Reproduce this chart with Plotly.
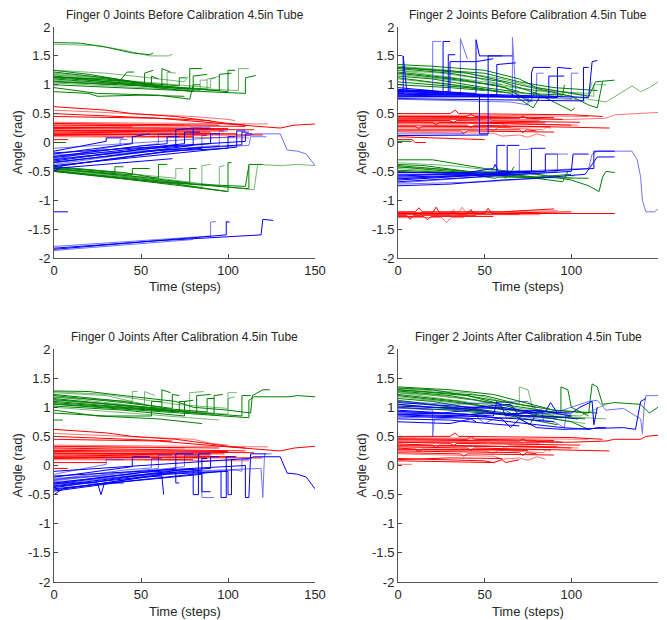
import plotly.graph_objects as go

# ---------------- data (keypoints: t0, a0, t1, a1, ...) ----------------
TITLES = ["Finger 0 Joints Before Calibration 4.5in Tube",
          "Finger 2 Joints Before Calibration 4.5in Tube",
          "Finger 0 Joints After Calibration 4.5in Tube",
          "Finger 2 Joints After Calibration 4.5in Tube"]
X_TICKS = [0, 50, 100, 150]
Y_TICKS = [2, 1.5, 1, 0.5, 0, -0.5, -1, -1.5, -2]
Y_TICK_LABELS = ["2", "1.5", "1", "0.5", "0", "-0.5", "-1", "-1.5", "-2"]

F0B_GREEN = [
    [0,1.73, 15,1.72, 30,1.65, 45,1.55, 55,1.52, 57,1.55],
    [0,1.70, 25,1.68, 40,1.6, 55,1.5, 66,1.50, 68,1.53],
    [0,1.25, 20,1.18, 52,1.02, 52,1.2, 57,1.25],
    [0,1.22, 30,1.12, 62,0.98, 62,1.28, 67,1.22],
    [0,1.2, 35,1.1, 65,0.95, 65,1.22, 70,1.2],
    [0,1.15, 40,1.02, 78,0.92, 78,1.28, 85,1.28],
    [0,1.1, 45,1.0, 80,0.88, 80,1.15, 88,1.18],
    [0,1.18, 50,1.05, 90,0.95, 90,1.1, 95,1.15],
    [0,1.05, 50,0.98, 95,0.9, 95,1.18, 102,1.2],
    [0,1.12, 55,1.0, 100,0.88, 100,1.25, 104,1.25],
    [0,1.08, 60,0.97, 106,0.9, 106,1.28, 112,1.28],
    [0,1.0, 60,0.92, 110,0.85, 110,1.12, 116,1.16],
    [0,0.95, 25,0.85, 60,0.82, 78,0.75, 80,1.0, 84,1.0],
    [0,1.25, 30,1.2, 55,1.12, 75,1.05, 77,1.15],
    [0,1.13, 30,1.1, 56,1.0, 56,1.15, 60,1.1],
    [0,0.88, 20,0.85, 25,0.8, 50,0.82, 75,0.8],
    [0,1.17, 70,0.95, 88,0.93, 88,1.1, 93,1.12],
    [0,1.06, 36,1.0, 42,1.22, 46,1.22],
    [0,1.14, 40,1.06, 72,0.98, 72,1.12, 76,1.12],
    [0,1.03, 45,0.96, 84,0.9, 84,1.08, 88,1.08],
    [0,-0.42, 40,-0.52, 60,-0.62, 60,-0.38, 65,-0.38],
    [0,-0.45, 50,-0.6, 78,-0.7, 78,-0.45, 82,-0.45],
    [0,-0.47, 50,-0.62, 85,-0.78, 85,-0.4, 90,-0.38],
    [0,-0.48, 60,-0.7, 100,-0.85, 100,-0.35, 102,-0.35],
    [0,-0.5, 60,-0.68, 112,-0.8, 112,-0.38, 120,-0.38],
    [0,-0.45, 60,-0.65, 115,-0.82, 117,-0.38, 130,-0.4, 140,-0.38, 150,-0.4],
    [0,-0.46, 45,-0.56, 45,-0.45, 55,-0.45],
    [0,-0.5, 30,-0.6, 70,-0.72, 100,-0.85],
    [0,-0.44, 60,-0.62, 95,-0.75, 95,-0.42, 98,-0.4],
    [0,-0.43, 35,-0.52, 35,-0.42, 40,-0.42],
    [0,-0.49, 80,-0.72, 110,-0.76, 112,-0.4],
    [0,-0.41, 50,-0.56, 70,-0.62, 70,-0.45, 74,-0.45],
    [0,0.0, 7,0.0],
]
F0B_RED = [
    [0,0.62, 30,0.56, 45,0.5, 70,0.45, 100,0.33, 110,0.3],
    [0,0.56, 40,0.5, 80,0.45, 100,0.4, 104,0.38],
    [0,0.5, 50,0.44, 90,0.38],
    [0,0.45, 60,0.42, 100,0.32, 130,0.25, 138,0.3, 150,0.32],
    [0,0.35, 123,0.32], [0,0.33, 95,0.3], [0,0.3, 110,0.28],
    [0,0.28, 85,0.25], [0,0.26, 100,0.24], [0,0.24, 115,0.22],
    [0,0.22, 70,0.2], [0,0.2, 90,0.18], [0,0.18, 105,0.15],
    [0,0.16, 60,0.15], [0,0.14, 120,0.13], [0,0.12, 80,0.1],
    [0,0.1, 112,0.08], [0,0.25, 45,0.27], [0,0.05, 8,0.05],
    [0,0.32, 75,0.3], [0,0.21, 98,0.2], [0,0.15, 88,0.13],
]
F0B_BLUE = [
    [0,-0.2, 45,-0.02, 45,0.1, 55,0.15],
    [0,-0.25, 60,-0.02, 60,0.15, 68,0.15],
    [0,-0.3, 70,-0.05, 70,0.22, 80,0.25],
    [0,-0.35, 80,-0.05, 80,0.25, 90,0.25],
    [0,-0.28, 95,-0.05, 95,0.2, 100,0.2],
    [0,-0.4, 105,-0.08, 105,0.2, 110,0.2],
    [0,-0.18, 110,0.02, 110,0.15, 114,0.15],
    [0,-0.22, 112,-0.05, 113,0.1, 122,0.1],
    [0,-0.45, 40,-0.35, 68,-0.28],
    [0,-0.5, 5,-0.4, 30,-0.3, 60,-0.18, 85,-0.1],
    [0,-0.1, 60,0.02, 112,0.12, 115,0.15, 130,0.15, 134,-0.13, 140,-0.15, 145,-0.2, 150,-0.4],
    [0,-0.15, 30,0.02, 30,0.08, 40,0.08],
    [0,-0.32, 50,-0.12, 90,-0.02, 90,0.15, 95,0.15],
    [0,-0.38, 55,-0.15, 85,-0.08, 85,0.12, 88,0.12],
    [0,-0.26, 75,-0.02, 75,0.18, 84,0.18],
    [0,-0.42, 65,-0.15, 100,-0.1, 100,0.1, 104,0.1],
    [0,-0.3, 20,-0.15, 38,-0.05, 38,0.05, 42,0.05],
    [0,-0.24, 50,-0.06, 65,-0.02, 65,0.1, 72,0.1],
    [0,-0.34, 60,-0.14, 108,-0.04, 108,0.18, 112,0.18],
    [0,-1.8, 90,-1.62, 90,-1.38, 93,-1.37],
    [0,-1.85, 99,-1.6, 99,-1.37, 101,-1.38],
    [0,-1.83, 60,-1.7, 119,-1.6, 120,-1.33, 126,-1.35],
    [0,-1.87, 30,-1.8, 80,-1.68],
    [0,-1.2, 8,-1.2],
]

F2B_GREEN = [
    [0,1.35, 20,1.32, 50,1.25, 70,1.1, 80,0.95, 100,0.85, 110,0.8, 114,1.05, 125,1.08],
    [0,1.32, 30,1.25, 60,1.1, 80,0.95, 113,0.8, 113,1.0, 120,1.0],
    [0,1.3, 40,1.2, 70,1.0, 100,0.8, 110,0.65, 115,0.6, 118,1.05],
    [0,1.28, 30,1.2, 60,1.05, 80,0.85, 100,0.55, 102,0.6],
    [0,1.25, 50,1.05, 90,0.85, 120,0.7, 135,0.98, 140,0.88, 145,0.95, 150,1.05],
    [0,1.22, 35,1.1, 62,0.95, 76,0.7, 80,0.9],
    [0,1.2, 30,1.1, 55,1.0, 70,0.88],
    [0,1.18, 40,1.05, 80,0.9, 110,0.85, 112,1.05],
    [0,1.15, 20,1.1, 50,0.95, 75,0.85, 95,0.82, 96,1.0],
    [0,1.12, 45,0.95, 65,0.85, 78,0.6, 82,0.8],
    [0,1.1, 30,1.0, 60,0.88, 90,0.8, 108,0.72],
    [0,1.05, 20,1.0, 40,0.95, 60,0.87],
    [0,1.3, 50,1.2, 70,1.05, 90,0.95, 115,0.9],
    [0,1.25, 25,1.2, 45,1.12, 60,1.0],
    [0,1.0, 30,0.95, 50,0.9],
    [0,-0.3, 20,-0.3, 30,-0.35, 50,-0.45, 80,-0.55, 100,-0.65, 110,-0.75, 116,-0.85, 118,-0.6, 120,-0.5, 125,-0.52],
    [0,-0.35, 30,-0.4, 60,-0.5, 90,-0.58, 100,-0.62, 102,-0.55],
    [0,-0.4, 40,-0.5, 48,-0.6, 50,-0.52, 70,-0.58, 95,-0.68, 98,-0.5],
    [0,-0.42, 30,-0.5, 60,-0.55, 62,-0.62, 64,-0.55, 80,-0.6, 100,-0.55],
    [0,-0.45, 25,-0.5, 50,-0.55, 70,-0.6, 80,-0.62, 82,-0.52],
    [0,-0.48, 30,-0.52, 70,-0.6, 110,-0.62],
    [0,-0.5, 40,-0.55, 56,-0.62, 58,-0.6, 88,-0.6],
    [0,-0.43, 20,-0.45, 45,-0.52, 60,-0.55],
    [0,-0.38, 15,-0.4, 40,-0.5, 65,-0.52, 67,-0.42],
    [0,0.02, 8,0.02],
]
F2B_RED = [
    [0,0.5, 30,0.5, 33,0.56, 35,0.5, 100,0.48, 118,0.45],
    [0,0.47, 60,0.47, 110,0.45],
    [0,0.45, 40,0.45, 42,0.5, 44,0.45, 90,0.43],
    [0,0.42, 70,0.42, 72,0.46, 74,0.42, 95,0.4],
    [0,0.4, 50,0.4, 52,0.44, 54,0.38, 82,0.38],
    [0,0.38, 30,0.38, 32,0.34, 34,0.38, 105,0.35],
    [0,0.35, 20,0.35, 22,0.3, 24,0.35, 100,0.3],
    [0,0.33, 60,0.33, 62,0.29, 64,0.35, 65,0.33, 104,0.3],
    [0,0.3, 40,0.3, 42,0.26, 44,0.3, 122,0.25],
    [0,0.28, 10,0.28, 12,0.24, 14,0.28, 88,0.27],
    [0,0.25, 50,0.25, 55,0.21, 58,0.26, 84,0.22, 86,0.28, 88,0.24],
    [0,0.22, 70,0.22, 72,0.17, 74,0.22, 80,0.2],
    [0,0.2, 36,0.2, 38,0.16, 40,0.2, 90,0.18],
    [0,0.18, 55,0.16, 60,0.11, 70,0.13, 75,0.09, 80,0.15, 85,0.11],
    [0,0.1, 20,0.08, 50,0.05],
    [0,0.05, 8,0.05, 10,0.0, 16,0.0],
    [0,0.4, 100,0.4, 120,0.42, 125,0.48, 150,0.52],
    [0,0.44, 75,0.43], [0,0.36, 85,0.34], [0,0.27, 65,0.26],
    [0,-1.2, 10,-1.2, 12,-1.13, 14,-1.2, 60,-1.2, 90,-1.15],
    [0,-1.22, 20,-1.22, 22,-1.12, 24,-1.22, 60,-1.22, 100,-1.2],
    [0,-1.25, 30,-1.25, 32,-1.16, 34,-1.25, 82,-1.25],
    [0,-1.23, 50,-1.23, 52,-1.14, 54,-1.23, 125,-1.23],
    [0,-1.28, 15,-1.28, 17,-1.34, 19,-1.28, 55,-1.28],
    [0,-1.3, 25,-1.3, 28,-1.38, 31,-1.3, 38,-1.3],
    [0,-1.24, 40,-1.24, 42,-1.16, 44,-1.24, 70,-1.24],
    [0,-1.26, 5,-1.26, 7,-1.33, 9,-1.26, 45,-1.26],
    [0,-1.21, 35,-1.21, 37,-1.12, 39,-1.21, 92,-1.18],
]
F2B_BLUE = [
    [0,0.85, 3,0.85, 3,1.5, 5,0.9, 20,0.9],
    [0,0.9, 20,0.9, 20,1.75, 25,1.75],
    [0,0.82, 26,0.85, 26,1.75, 30,1.75],
    [0,0.88, 29,0.88, 29,1.52, 33,1.52],
    [0,0.8, 36,0.82, 36,1.8, 40,1.45],
    [0,0.92, 45,0.85, 45,1.78, 47,1.5, 60,1.5],
    [0,0.86, 47,0.82, 47,0.15, 52,0.15, 52,1.5, 66,1.5],
    [0,0.78, 66,0.8, 66,1.82, 68,0.85, 78,0.7],
    [0,0.95, 57,0.8, 57,1.35, 68,1.38],
    [0,0.84, 77,0.8, 77,1.2, 78,1.3, 88,1.3],
    [0,0.9, 80,0.78, 80,1.2, 84,1.2],
    [0,0.82, 87,0.78, 87,1.15, 96,1.15],
    [0,0.8, 92,0.78, 92,1.3, 100,1.28],
    [0,0.86, 100,0.75, 100,1.2, 104,1.2],
    [0,0.76, 107,0.72, 107,1.3, 110,1.3],
    [0,0.88, 110,0.78, 112,1.4, 115,1.42],
    [0,0.75, 45,0.72, 65,0.7, 75,0.65, 75,0.8, 90,0.8],
    [0,0.9, 30,0.85, 30,1.4, 45,1.4, 55,1.45],
    [0,0.12, 52,0.13],
    [0,0.15, 38,0.15],
    [0,-0.55, 57,-0.55, 57,-0.05, 62,-0.05],
    [0,-0.6, 63,-0.55, 63,-0.05, 70,-0.05],
    [0,-0.62, 70,-0.55, 70,-0.12, 75,-0.12, 77,-0.1],
    [0,-0.58, 77,-0.5, 77,-0.1, 85,-0.1],
    [0,-0.65, 85,-0.5, 85,-0.2, 92,-0.2],
    [0,-0.7, 92,-0.5, 92,-0.2, 98,-0.2],
    [0,-0.68, 100,-0.5, 101,-0.2, 110,-0.2],
    [0,-0.63, 113,-0.45, 113,-0.15, 125,-0.15],
    [0,-0.57, 110,-0.45, 112,-0.2, 115,-0.15, 135,-0.15, 138,-0.3, 140,-0.6, 141,-1.0, 143,-1.2, 148,-1.2, 150,-1.15],
    [0,-0.75, 30,-0.72, 60,-0.65, 80,-0.62, 108,-0.55, 115,-0.25, 125,-0.25],
    [0,-0.52, 40,-0.52, 55,-0.45, 56,-0.38, 58,-0.5, 80,-0.5],
    [0,-0.72, 50,-0.68, 90,-0.6],
]

F0A_GREEN = [
    [0,1.28, 20,1.27, 40,1.2, 70,1.1, 80,1.0, 100,0.95, 113,0.9, 114,1.2, 120,1.3, 124,1.3],
    [0,1.25, 30,1.2, 52,1.05, 52,1.27, 58,1.2],
    [0,1.22, 40,1.1, 62,1.0, 62,1.3, 67,1.25],
    [0,1.2, 40,1.08, 68,0.98, 68,1.22, 72,1.2],
    [0,1.18, 45,1.03, 78,0.92, 78,1.25, 86,1.27],
    [0,1.15, 50,1.0, 82,0.9, 82,1.2, 90,1.22],
    [0,1.1, 50,0.98, 92,0.88, 92,1.2, 97,1.22],
    [0,1.12, 60,0.98, 100,0.88, 100,1.25, 105,1.25],
    [0,1.08, 60,0.95, 108,0.85, 108,1.2, 113,1.2],
    [0,1.05, 60,0.92, 112,0.82, 112,1.12, 115,1.18, 125,1.18, 135,1.18, 140,1.2, 150,1.18],
    [0,1.0, 55,0.88, 95,0.78],
    [0,0.95, 25,0.85, 60,0.8, 85,0.72],
    [0,0.9, 30,0.85, 56,0.85, 56,1.1, 62,1.1],
    [0,1.17, 45,1.1, 45,1.27, 48,1.27],
    [0,1.02, 40,0.95, 75,0.85, 75,1.1, 80,1.12],
    [0,0.78, 5,0.78],
    [0,1.27, 30,1.22, 70,1.05, 90,1.0, 100,0.98, 100,1.15, 104,1.18],
    [0,1.13, 40,1.04, 88,0.92, 88,1.15, 92,1.15],
    [0,1.06, 50,0.96, 72,0.92, 72,1.1, 76,1.1],
]
F0A_RED = [
    [0,0.62, 30,0.56, 45,0.5, 70,0.45, 100,0.33, 110,0.3],
    [0,0.55, 40,0.5, 80,0.45, 90,0.38, 100,0.35],
    [0,0.5, 50,0.44, 68,0.42],
    [0,0.45, 60,0.42, 100,0.32, 130,0.25, 138,0.3, 150,0.33],
    [0,0.35, 123,0.32], [0,0.33, 95,0.3], [0,0.3, 110,0.25],
    [0,0.28, 85,0.25], [0,0.26, 100,0.24], [0,0.24, 115,0.22],
    [0,0.22, 70,0.2], [0,0.2, 90,0.18], [0,0.18, 105,0.15],
    [0,0.16, 60,0.15], [0,0.14, 120,0.13], [0,0.12, 80,0.1],
    [0,0.1, 112,0.08], [0,0.05, 30,0.05], [0,-0.05, 8,-0.05],
    [0,0.32, 75,0.3], [0,0.21, 98,0.2], [0,0.15, 88,0.13],
]
F0A_BLUE = [
    [0,-0.2, 45,-0.02, 45,0.15, 55,0.15],
    [0,-0.25, 60,-0.05, 60,0.18, 68,0.18],
    [0,-0.3, 70,-0.05, 70,0.2, 80,0.2],
    [0,-0.35, 80,-0.05, 80,-0.5, 83,-0.5, 83,0.2, 90,0.2],
    [0,-0.28, 85,-0.1, 85,-0.55, 92,-0.55],
    [0,-0.4, 96,-0.1, 96,-0.55, 99,-0.55, 99,0.15, 104,0.15],
    [0,-0.18, 110,0.0, 110,-0.55, 112,-0.55, 113,0.2, 122,0.2],
    [0,-0.22, 105,-0.08, 108,-0.1, 108,0.1, 112,0.1],
    [0,-0.5, 5,-0.4, 30,-0.3, 50,-0.2, 62,-0.18, 63,-0.5],
    [0,-0.1, 60,0.02, 112,0.12, 115,0.15, 130,0.15, 134,-0.13, 140,-0.15, 145,-0.2, 150,-0.4],
    [0,-0.15, 30,0.02, 30,0.1, 40,0.1],
    [0,-0.32, 50,-0.12, 90,-0.05, 90,0.15, 95,0.15],
    [0,-0.38, 55,-0.15, 85,-0.08, 85,0.12, 88,0.12],
    [0,-0.26, 75,-0.02, 75,0.18, 84,0.18],
    [0,-0.42, 65,-0.15, 100,-0.1, 100,-0.5, 102,-0.5, 102,0.1, 104,0.1],
    [0,-0.3, 25,-0.3, 27,-0.5, 29,-0.3, 40,-0.3],
    [0,-0.33, 60,-0.12, 119,-0.05, 120,-0.55, 121,0.2, 125,0.2],
    [0,-0.44, 40,-0.28, 85,-0.15, 85,-0.45, 90,-0.45],
    [0,-0.36, 50,-0.2, 70,-0.12, 70,-0.3, 72,-0.3],
    [0,-0.24, 40,-0.08, 56,-0.04, 56,0.12, 62,0.12],
]

F2A_GREEN = [
    [0,1.35, 30,1.3, 55,1.22, 70,1.1, 90,0.95, 110,0.9, 112,1.4, 115,1.35, 118,1.05, 125,1.08, 140,1.05, 145,0.9, 150,1.0],
    [0,1.32, 40,1.25, 60,1.1, 70,1.05, 70,1.35, 75,1.3, 78,0.95, 90,0.85],
    [0,1.3, 40,1.2, 60,1.05, 94,0.9, 94,1.35, 98,1.3, 100,1.0, 110,0.85],
    [0,1.28, 30,1.2, 60,1.05, 80,0.85, 100,0.75, 110,0.62],
    [0,1.25, 50,1.05, 90,0.85, 120,0.8],
    [0,1.22, 35,1.1, 62,0.95, 76,0.7, 80,0.9],
    [0,1.2, 30,1.1, 55,1.0, 85,0.85, 108,0.8],
    [0,1.18, 40,1.05, 80,0.9, 105,0.85, 120,1.05],
    [0,1.15, 20,1.1, 50,0.95, 75,0.85, 95,0.82, 100,0.85],
    [0,1.12, 45,0.95, 65,0.85, 92,0.7],
    [0,1.1, 30,1.0, 60,0.88, 90,0.8, 108,0.72],
    [0,1.05, 20,1.0, 40,0.95, 60,0.87],
    [0,1.3, 50,1.2, 70,1.05, 90,0.95, 115,0.9],
    [0,1.25, 25,1.2, 45,1.12, 60,1.0],
    [0,1.0, 30,0.95, 50,0.9],
    [0,1.33, 20,1.3, 40,1.2, 55,1.12, 80,1.0],
    [0,1.27, 45,1.12, 70,0.98, 100,0.88],
]
F2A_RED = [
    [0,0.5, 30,0.5, 33,0.56, 35,0.5, 100,0.48, 118,0.45],
    [0,0.48, 60,0.47, 110,0.45],
    [0,0.46, 40,0.45, 42,0.5, 44,0.45, 90,0.43],
    [0,0.44, 70,0.42, 72,0.46, 74,0.42, 95,0.4],
    [0,0.42, 50,0.4, 52,0.44, 54,0.38, 82,0.38],
    [0,0.4, 30,0.38, 32,0.34, 34,0.38, 105,0.35],
    [0,0.37, 20,0.35, 22,0.3, 24,0.35, 100,0.3],
    [0,0.35, 60,0.33, 62,0.29, 64,0.35, 104,0.3],
    [0,0.32, 40,0.3, 42,0.26, 44,0.3, 122,0.25],
    [0,0.3, 10,0.28, 12,0.24, 14,0.28, 88,0.27],
    [0,0.27, 50,0.25, 55,0.21, 58,0.26, 84,0.22, 86,0.28, 88,0.24],
    [0,0.25, 70,0.22, 72,0.17, 74,0.22, 80,0.2],
    [0,0.22, 36,0.2, 38,0.16, 40,0.2, 90,0.18],
    [0,0.2, 55,0.16, 60,0.11, 70,0.13, 75,0.09, 80,0.15, 85,0.11],
    [0,0.12, 20,0.1, 50,0.08, 55,0.05, 60,0.1, 62,0.05, 70,0.1],
    [0,0.08, 50,0.05, 56,0.05],
    [0,0.02, 8,0.02],
    [0,0.4, 100,0.4, 120,0.42, 125,0.45, 140,0.45, 143,0.5, 150,0.52],
    [0,0.1, 30,0.13, 60,0.12],
    [0,0.45, 80,0.43], [0,0.34, 92,0.32], [0,0.28, 75,0.26],
]
F2A_BLUE = [
    [0,1.05, 20,1.0, 40,0.98, 60,1.0, 62,0.85, 70,0.9, 80,0.95, 100,0.85],
    [0,1.0, 20,0.95, 20,0.5, 21,0.8, 50,0.85],
    [0,0.95, 30,0.9, 55,0.85, 57,1.1, 60,1.0, 80,0.9],
    [0,0.9, 40,0.88, 60,0.8, 65,0.65, 70,0.8, 90,0.75],
    [0,1.1, 30,1.05, 75,1.1, 80,0.95, 83,0.95, 84,0.75],
    [0,0.85, 50,0.8, 80,0.7, 95,0.65, 110,0.62, 115,0.65, 120,0.65],
    [0,0.8, 30,0.78, 60,0.7, 70,0.68],
    [0,0.92, 40,0.88, 90,0.9, 110,1.1, 115,1.12, 120,0.95, 130,0.98, 140,0.8, 141,0.55, 142,1.0, 143,1.2, 150,1.2],
    [0,1.08, 40,1.0, 70,0.95, 100,0.9, 105,1.0, 112,1.1, 113,0.7, 115,1.0],
    [0,0.88, 40,0.85, 70,0.8, 80,0.65, 95,0.62, 130,0.65, 137,0.62, 138,0.8, 140,1.1, 143,1.15],
    [0,0.98, 50,0.95, 90,0.75, 96,0.65, 97,0.9],
    [0,0.75, 30,0.72, 42,0.8, 45,0.75],
    [0,1.02, 35,0.98, 65,1.05, 70,0.85, 80,0.85],
    [0,0.82, 45,0.85, 50,0.72, 55,0.8, 75,0.85, 92,0.8],
    [0,0.93, 25,0.9, 45,0.96, 60,0.88, 85,0.92, 88,1.08, 92,0.9],
    [0,0.87, 30,0.84, 50,0.9, 70,0.86, 90,0.84, 104,0.8],
]

PANELS = [
    (F0B_RED, F0B_GREEN, F0B_BLUE),
    (F2B_RED, F2B_GREEN, F2B_BLUE),
    (F0A_RED, F0A_GREEN, F0A_BLUE),
    (F2A_RED, F2A_GREEN, F2A_BLUE),
]
COLORS = ["#ff0000", "#008000", "#0000ff"]

# ---------------- layout geometry (page pixels; page body has an 8px margin) ----------------
OFF = 8
W, H = 667 - OFF, 620 - OFF
BOXES = [(54, 315, 27, 258), (398, 658, 27, 258),
         (54, 315, 349, 582), (398, 658, 349, 582)]


def px(v):
    return (v - OFF) / W


def py(v):
    return 1 - (v - OFF) / H


fig = go.Figure()
FONT = "Liberation Sans, Arial, sans-serif"
annotations = []
for p, (groups, (x0, x1, y0, y1)) in enumerate(zip(PANELS, BOXES)):
    xa = "x" if p == 0 else f"x{p+1}"
    ya = "y" if p == 0 else f"y{p+1}"
    for color, lines in zip(COLORS, groups):
        for i, ln in enumerate(lines):
            fig.add_trace(go.Scatter(
                x=ln[0::2], y=ln[1::2], mode="lines", xaxis=xa, yaxis=ya,
                line=dict(color=color, width=1),
                opacity=0.55 if i % 3 == 1 else 1.0,
                showlegend=False, hoverinfo="skip"))
    axx = dict(domain=[px(x0), px(x1)], range=[0, 150], tickvals=X_TICKS,
               ticks="inside", ticklen=4, tickcolor="#444", showline=True,
               linecolor="#555", linewidth=1, showgrid=False, zeroline=False,
               tickfont=dict(family=FONT, size=13, color="#262626"),
               anchor=ya, fixedrange=True, automargin=False)
    axy = dict(domain=[py(y1), py(y0)], range=[-2, 2],
               tickvals=Y_TICKS, ticktext=Y_TICK_LABELS,
               ticks="inside", ticklen=4, tickcolor="#444", showline=True,
               linecolor="#555", linewidth=1, showgrid=False, zeroline=False,
               tickfont=dict(family=FONT, size=13, color="#262626"),
               anchor=xa, fixedrange=True, automargin=False)
    fig.update_layout(**{("xaxis" if p == 0 else f"xaxis{p+1}"): axx,
                         ("yaxis" if p == 0 else f"yaxis{p+1}"): axy})
    cx = (x0 + x1) / 2
    annotations.append(dict(text=TITLES[p], x=px(cx), y=py(y0 - 12),
                            xref="paper", yref="paper", showarrow=False,
                            xanchor="center", yanchor="middle",
                            font=dict(family=FONT, size=12, color="#262626")))
    annotations.append(dict(text="Time (steps)", x=px(cx), y=py(y1 + 29),
                            xref="paper", yref="paper", showarrow=False,
                            xanchor="center", yanchor="middle",
                            font=dict(family=FONT, size=13, color="#262626")))
    annotations.append(dict(text="Angle (rad)", x=px(x0 - 37),
                            y=py((y0 + y1) / 2), textangle=-90,
                            xref="paper", yref="paper", showarrow=False,
                            xanchor="center", yanchor="middle",
                            font=dict(family=FONT, size=13, color="#262626")))

fig.update_layout(width=W, height=H, margin=dict(l=0, r=0, t=0, b=0),
                  paper_bgcolor="white", plot_bgcolor="white",
                  annotations=annotations)
fig.write_html("out.html")
